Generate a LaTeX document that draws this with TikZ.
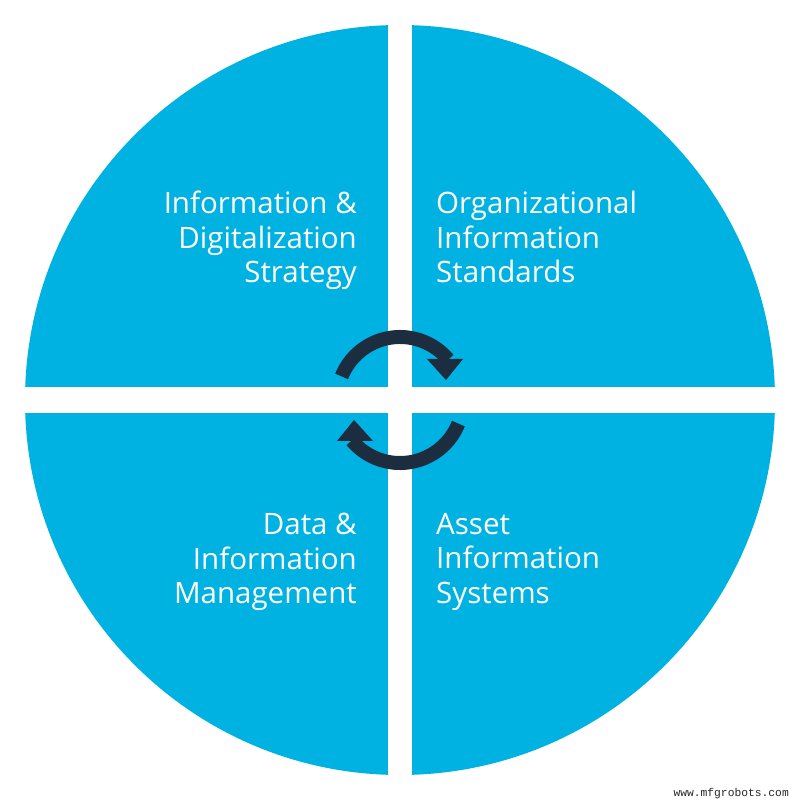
\documentclass[tikz,border=0pt]{standalone}
\usepackage{fontspec}
\setmainfont{Open Sans}
\newfontfamily\wmfont{Liberation Mono}
\definecolor{wheelblue}{RGB}{0,178,226}
\definecolor{arrowblue}{RGB}{27,45,63}

\begin{document}
\begin{tikzpicture}[x=1pt, y=1pt,
    lefttxt/.style = {anchor=north east, align=right,
      inner sep=0pt, text=white,
      font=\fontsize{29.5}{34.5}\selectfont},
    righttxt/.style = {anchor=north west, align=left,
      inner sep=0pt, text=white,
      font=\fontsize{29.5}{34.5}\selectfont},
    mark text/.style = {anchor=base east, inner sep=0pt,
      text=black!85, font=\wmfont\fontsize{11.3}{12}\selectfont}]
  \useasboundingbox (0,0) rectangle (800,801);
  \coordinate (c) at (400,401);
  % wheel and white cross
  \fill[wheelblue] (c) circle (375);
  \fill[white] (388,0) rectangle (412,801);
  \fill[white] (0,388) rectangle (800,414);
  % turning arrows
  \draw[arrowblue, line width=14] ([shift={(158:63)}]c) arc (158:40:63);
  \fill[arrowblue] ([shift={(27,41)}]c) -- ([shift={(63,41)}]c)
    -- ([shift={(46,20)}]c) -- cycle;
  \draw[arrowblue, line width=14] ([shift={(-22:63)}]c) arc (-22:-140:63);
  \fill[arrowblue] ([shift={(-27,-41)}]c) -- ([shift={(-63,-41)}]c)
    -- ([shift={(-46,-20)}]c) -- cycle;
  % quadrant texts
  \node[lefttxt] (strategy) at (357,610) {Information \&\\Digitalization\\Strategy};
  \node[righttxt] (standards) at (436,610) {Organizational\\Information\\Standards};
  \node[lefttxt] (datamgmt) at (357,288) {Data \&\\Information\\Management};
  \node[righttxt] (systems) at (436,288) {Asset\\Information\\Systems};
  \node[mark text] (site) at (789,5) {www.mfgrobots.com};
\end{tikzpicture}
\end{document}
